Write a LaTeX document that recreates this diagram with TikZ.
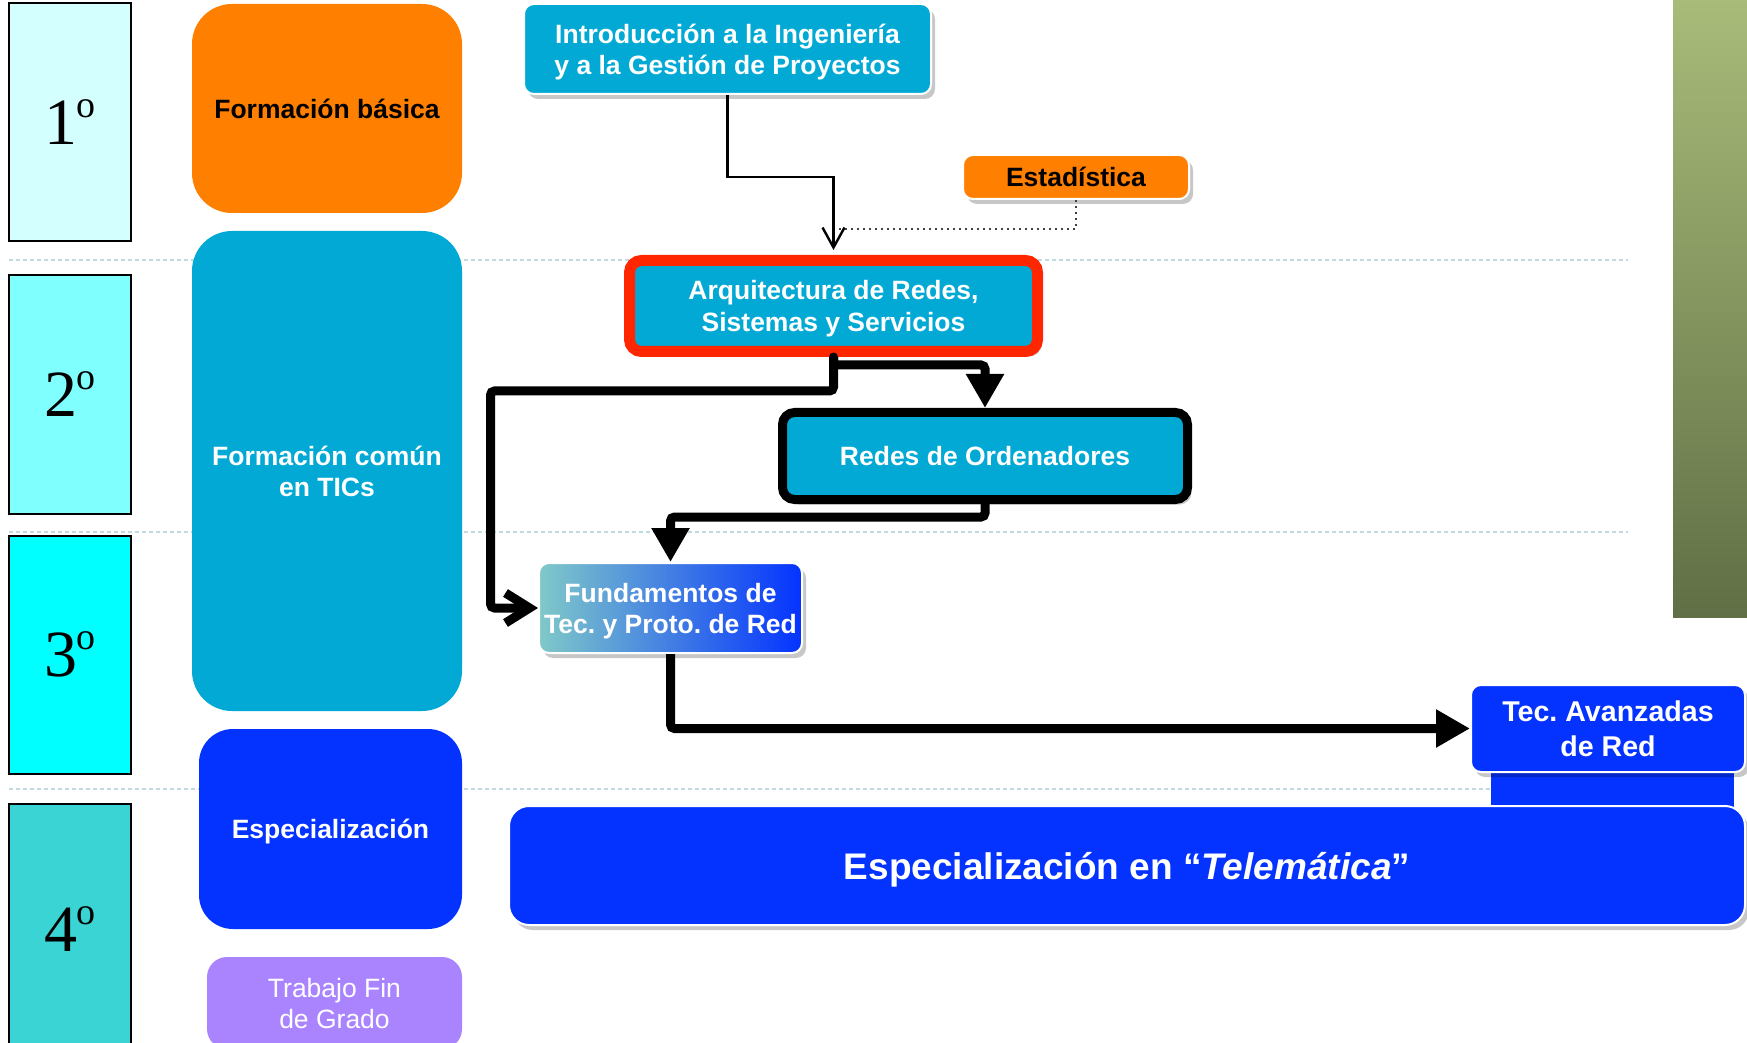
\documentclass[tikz,border=0pt]{standalone}
\usepackage{fontspec}
\setmainfont{Liberation Sans}
\newfontfamily\yearfont{Liberation Serif}
\usetikzlibrary{arrows.meta,shadows}

\definecolor{cursoA}{HTML}{D4FFFF}
\definecolor{cursoB}{HTML}{80FFFF}
\definecolor{cursoC}{HTML}{00FFFF}
\definecolor{cursoD}{HTML}{3AD4D4}
\definecolor{naranja}{HTML}{FF7F00}
\definecolor{azulTIC}{HTML}{02A9D5}
\definecolor{azulEsp}{HTML}{0433FF}
\definecolor{lila}{HTML}{AA84FF}
\definecolor{rojo}{HTML}{FF2600}
\definecolor{fundA}{HTML}{80C9C8}
\definecolor{oliveA}{HTML}{A9BB79}
\definecolor{oliveB}{HTML}{606F45}
\definecolor{sepgris}{HTML}{BFDAE0}

\newcommand{\curso}[1]{{\yearfont\fontsize{33pt}{33pt}\selectfont #1\raisebox{13.5pt}{\fontsize{19pt}{19pt}\selectfont o}}}

\tikzset{
  cursobox/.style={draw=black, line width=1pt, minimum width=61pt, minimum height=119pt, inner sep=0pt},
  colbox/.style={rounded corners=20pt, text=white, align=center, inner sep=0pt, text depth=-1.5pt,
    font=\fontsize{13.25pt}{15.6pt}\selectfont\bfseries},
  materia/.style={fill=azulTIC, draw=white, line width=1pt, rounded corners=5pt, text=white,
    align=center, inner sep=0pt, text depth=-1.5pt, font=\fontsize{13.25pt}{15.6pt}\selectfont\bfseries,
    drop shadow={shadow xshift=2pt, shadow yshift=-2.5pt, opacity=0.22, fill=black}},
  fina/.style={line width=1.2pt, -{Straight Barb[length=10pt,width=11pt]}, shorten >=2.5pt},
  punteada/.style={line width=1pt, dotted, black!75},
  gruesa/.style={line width=4.5pt, rounded corners=2pt, -{Triangle[length=17pt,width=18pt]}},
  gruesaV/.style={line width=4.5pt, rounded corners=2pt, line cap=round,
    -{Straight Barb[length=12pt,width=15pt]}},
  sepline/.style={sepgris, line width=0.8pt, dash pattern=on 2pt off 1.5pt}
}

\begin{document}
\frenchspacing
\begin{tikzpicture}[x=0.5pt, y=-0.5pt]
    \useasboundingbox (0,0) rectangle (1747,1043);

    % 年级分隔虚线
    \foreach \y in {260, 532, 789}
        \draw[sepline] (9,\y) -- (1628,\y);

    % 右侧渐变条
    \shade[top color=oliveA, bottom color=oliveB] (1673,0) rectangle (1747,617);

    % 年级方框
    \foreach \n/\y/\c in {1/122/cursoA, 2/394.5/cursoB, 3/654.5/cursoC}
        \node[cursobox, fill=\c] (curso\n) at (70,\y) {\curso{\n}};
    \node[cursobox, fill=cursoD, minimum height=125pt] (curso4) at (70,929) {\curso{4}};

    % 左列
    \node[colbox, fill=naranja, text=black, minimum width=135pt, minimum height=104.5pt] (basica) at (327,108.5) {Formación básica};
    \node[colbox, fill=azulTIC, minimum width=135pt, minimum height=240pt] (comun) at (327,471) {Formación común\\en TICs};
    \node[colbox, fill=azulEsp, rounded corners=17pt, minimum width=131.5pt, minimum height=100pt] (espec) at (330.5,829) {Especialización};
    \node[colbox, fill=lila, rounded corners=10pt, text depth=0pt, font=\fontsize{13.25pt}{15.6pt}\selectfont,
        minimum width=127.5pt, minimum height=46pt] (tfg) at (334.5,1003) {Trabajo Fin\\de Grado};

    % 课程
    \node[materia, minimum width=203.5pt, minimum height=45pt] (intro) at (727.5,49) {Introducción a la Ingeniería\\y a la Gestión de Proyectos};
    \node[materia, fill=naranja, text=black, minimum width=113pt, minimum height=22pt] (estad) at (1076,177) {Estadística};
    \node[materia, draw=rojo, line width=5.5pt, rounded corners=6pt, minimum width=204pt, minimum height=45.5pt] (arq) at (833.5,306) {Arquitectura de Redes,\\Sistemas y Servicios};
    \node[materia, draw=black, line width=4.5pt, rounded corners=6pt, minimum width=202.5pt, minimum height=43.5pt] (redes) at (985,456) {Redes de Ordenadores};
    \node[materia, left color=fundA, right color=azulEsp, minimum width=131.5pt, minimum height=45pt] (fund) at (670.5,608) {Fundamentos de\\Tec. y Proto. de Red};
    \fill[azulEsp] (1491,770) rectangle (1734,808);
    \node[materia, fill=azulEsp, font=\fontsize{14.3pt}{17.3pt}\selectfont\bfseries,
        minimum width=137pt, minimum height=43.5pt] (tecav) at (1608,728.5) {Tec. Avanzadas\\de Red};
    \node[materia, fill=azulEsp, rounded corners=10pt, font=\fontsize{18.5pt}{22pt}\selectfont\bfseries,
        minimum width=618pt, minimum height=59.5pt] (telem) at (1127,865.5) {Especialización en “\textit{Telemática}”};

    % 连线
    \draw[fina] (intro.south) -- ++(0,82) -| (arq.north);
    \draw[punteada] (estad.south) |- ++(-237,29);
    \draw[gruesa] (arq.south) -- ++(0,8) -| (redes.north);
    \draw[gruesaV] (arq.south) |- ++(-343,34) |- (fund.west);
    \draw[gruesa] (redes.south) -- ++(0,13) -| (fund.north);
    \draw[gruesa] (fund.south) |- (tecav.west);
\end{tikzpicture}
\end{document}
